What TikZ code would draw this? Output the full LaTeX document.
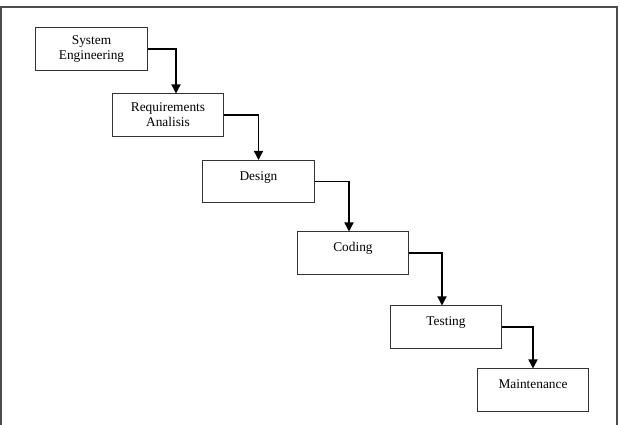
\documentclass[tikz,border=0pt]{standalone}
\usepackage{fontspec}
\setmainfont{Liberation Serif}
\usepackage{tikz}
\usetikzlibrary{arrows.meta,positioning}
\tikzstyle{phase} = [rectangle, minimum width=2.775cm, minimum height=1.05cm, text width=2.5cm, align=center, draw=black!80, line width=0.7pt, font=\fontsize{9.5}{10.7}\selectfont]
\tikzstyle{single} = [text height=6.5pt, text depth=8pt]
\tikzstyle{arrow} = [line width=1pt, draw=black, -{Triangle[width=6.5pt,length=6.5pt]}]

\begin{document}
\begin{tikzpicture}[x=0.025cm, y=-0.025cm]
    \useasboundingbox (0,0) rectangle (620,425);

    % frame of the page
    \draw[black!70, line width=1.2pt] (1,425) -- (1,7) -- (617,7) -- (617,425);

    \node (sys_engineering) [phase] at (91.5,49) {System\\Engineering};

    \node (requirements) [phase] at (168,115) {Requirements\\Analisis};

    \node (design) [phase, single] at (258.5,181.5) {Design};

    \node (coding) [phase, single] at (353,253) {Coding};

    \node (testing) [phase, single] at (446,327) {Testing};

    \node (maintenance) [phase, single] at (533,390) {Maintenance};

      \draw[arrow] (sys_engineering.east) -| ([xshift=2mm]requirements.north);

      \draw[arrow] (requirements.east) -| (design.north);

      \draw[arrow] (design.east) -| ([xshift=-1mm]coding.north);

      \draw[arrow] (coding.east) -| ([xshift=-1mm]testing.north);

      \draw[arrow] (testing.east) -| (maintenance.north);

\end{tikzpicture}
\end{document}
